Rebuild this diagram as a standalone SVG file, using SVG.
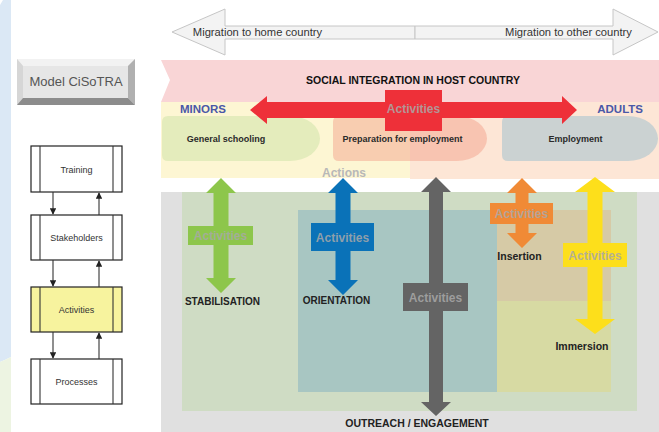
<svg xmlns="http://www.w3.org/2000/svg" width="659" height="432" viewBox="0 0 659 432">
<style>
text{font-family:"Liberation Sans",Arial,sans-serif}
.b{font-weight:bold}
.lbl{font-weight:bold;font-size:12px;fill:#a8a8a8;fill-opacity:0.85;text-anchor:middle}
.box{fill:#fff;stroke:#222;stroke-width:1.2}
.bt{font-size:9px;fill:#333;text-anchor:middle}
.cn{stroke:#333;stroke-width:1.1;fill:none}
.mig{fill:#f3f3f3;stroke:#c6c6c6;stroke-width:1}
</style>
<defs>
<marker id="ah" viewBox="0 0 8 8" refX="7" refY="4" markerWidth="6" markerHeight="6" orient="auto">
<path d="M0,0 L8,4 L0,8 Z" fill="#222"/>
</marker>
</defs>
<rect width="659" height="432" fill="#fff"/>
<!-- left background -->
<path d="M3,0 L11,0 L11,357 Q5,360 0,362 L0,5 Z" fill="#dbe8f5"/>
<path d="M0,362 Q5,360 11,357 L11,432 L0,432 Z" fill="#edf4e2"/>
<!-- lower regions -->
<rect x="161" y="192" width="498" height="240" fill="#e0e0e0"/>
<rect x="182" y="192" width="455" height="219" fill="#cfdcc4"/>
<rect x="298" y="210" width="199" height="182" fill="#a8c6c2"/>
<rect x="497" y="210" width="114" height="91" fill="#d6caa6"/>
<rect x="497" y="301" width="114" height="91" fill="#d7daa3"/>
<!-- upper regions -->
<path d="M161,60 L659,60 L659,102 L161,102 L170,80 Z" fill="#f9d5d6"/>
<rect x="161" y="102" width="249" height="76" fill="#fdf6d3"/>
<rect x="410" y="102" width="249" height="77" fill="#fde6d6"/>
<g id="general-schooling">
<path d="M162,122 Q162,116 168,116 L290,116 A30,22.5 0 0 1 290,161 L168,161 Q162,161 162,155 Z" fill="#e4ecbc"/>
<text x="226" y="142" class="b" font-size="9" fill="#2a2a2a" text-anchor="middle">General schooling</text>
</g>
<g id="preparation">
<path d="M333,122 Q333,116 339,116 L457,116 A30,22.5 0 0 1 457,161 L339,161 Q333,161 333,155 Z" fill="#f29b86" fill-opacity="0.45"/>
<text x="402.5" y="142" class="b" font-size="9" fill="#2a2a2a" text-anchor="middle">Preparation for employment</text>
</g>
<g id="employment">
<path d="M502,122 Q502,116 508,116 L628,116 A30,22.5 0 0 1 628,161 L508,161 Q502,161 502,155 Z" fill="#cbd2d2"/>
<text x="575.5" y="142" class="b" font-size="9" fill="#2a2a2a" text-anchor="middle">Employment</text>
</g>
<text x="413" y="84" class="b" font-size="10.5" fill="#111" text-anchor="middle">SOCIAL INTEGRATION IN HOST COUNTRY</text>
<text x="180" y="113" class="b" font-size="11.5" fill="#4a58a8">MINORS</text>
<text x="643" y="113" class="b" font-size="11.5" fill="#4a58a8" text-anchor="end">ADULTS</text>
<text x="344" y="177" class="b" font-size="12" fill="#b8b8b8" text-anchor="middle">Actions</text>
<!-- migration arrows -->
<g id="migration-home">
<path class="mig" d="M172,32 L225,9 L225,26 L415,26 L415,39 L225,39 L225,55 Z"/>
<text x="257.5" y="36" font-size="11.2" fill="#333" text-anchor="middle">Migration to home country</text>
</g>
<g id="migration-other">
<path class="mig" d="M415,26 L613,26 L613,9 L658,32 L613,55 L613,39 L415,39 Z"/>
<text x="568.5" y="36" font-size="11.2" fill="#333" text-anchor="middle">Migration to other country</text>
</g>
<!-- model button -->
<g id="model-cisotra">
<rect x="17" y="59" width="118" height="46" fill="#e6e6e6"/>
<path d="M17,59 L135,59 L128,66 L23,66 Z" fill="#f2f2f2"/>
<path d="M17,59 L23,66 L23,98 L17,105 Z" fill="#d6d6d6"/>
<path d="M135,59 L135,105 L128,98 L128,66 Z" fill="#b0b0b0"/>
<path d="M17,105 L135,105 L128,98 L23,98 Z" fill="#8c8c8c"/>
<text x="76" y="86" font-size="13" fill="#555" text-anchor="middle">Model CiSoTRA</text>
</g>
<!-- big arrows -->
<g id="red-activities">
<path d="M250,110 L267,96 L267,102 L562,102 L562,96 L577,110 L562,124 L562,118 L267,118 L267,124 Z" fill="#ee3039"/>
<rect x="385" y="90" width="57" height="41" fill="#ee3039"/>
<text x="413.5" y="113" class="lbl" font-size="13">Activities</text>
</g>
<g id="stabilisation">
<path d="M221,178 L236,193 L228.5,193 L228.5,278 L236,278 L221,293 L206,278 L213.5,278 L213.5,193 L206,193 Z" fill="#8dc64b"/>
<rect x="188" y="226" width="65" height="19" fill="#8dc64b"/>
<text x="220.5" y="240" class="lbl">Activities</text>
<text x="222.5" y="305" class="b" font-size="10" fill="#222" text-anchor="middle">STABILISATION</text>
</g>
<g id="orientation">
<path d="M343,178 L358,193 L350.5,193 L350.5,280 L358,280 L343,295 L328,280 L335.5,280 L335.5,193 L328,193 Z" fill="#0a72b8"/>
<rect x="311" y="223" width="63" height="28" fill="#0a72b8"/>
<text x="342.5" y="241.5" class="lbl">Activities</text>
<text x="336.5" y="304" class="b" font-size="10" fill="#222" text-anchor="middle">ORIENTATION</text>
</g>
<g id="outreach">
<path d="M436,177 L451,192 L443,192 L443,402 L451,402 L436,416 L421,402 L429,402 L429,192 L421,192 Z" fill="#646464"/>
<rect x="403" y="283" width="65" height="28" fill="#646464"/>
<text x="435.5" y="301.5" class="lbl">Activities</text>
<text x="417" y="427" class="b" font-size="10.5" fill="#222" text-anchor="middle">OUTREACH / ENGAGEMENT</text>
</g>
<g id="insertion">
<path d="M522,178 L537,193 L528.5,193 L528.5,233 L537,233 L522,248 L507,233 L515.5,233 L515.5,193 L507,193 Z" fill="#f08a36"/>
<rect x="490" y="203" width="63" height="21" fill="#f08a36"/>
<text x="521.5" y="218" class="lbl">Activities</text>
<text x="519.5" y="260" class="b" font-size="10.5" fill="#222" text-anchor="middle">Insertion</text>
</g>
<g id="immersion">
<path d="M595,177 L615,192 L602.5,192 L602.5,319 L615,319 L595,334 L575,319 L587.5,319 L587.5,192 L575,192 Z" fill="#fddf1b"/>
<rect x="563" y="243" width="64" height="24" fill="#fddf1b"/>
<text x="595" y="259.5" class="lbl">Activities</text>
<text x="582" y="350" class="b" font-size="10.5" fill="#222" text-anchor="middle">Immersion</text>
</g>
<!-- left flow -->
<g id="training">
<rect class="box" x="31" y="146" width="91" height="46"/>
<line class="cn" x1="40" y1="146" x2="40" y2="192"/><line class="cn" x1="113" y1="146" x2="113" y2="192"/>
<text class="bt" x="76.5" y="173">Training</text>
</g>
<g id="stakeholders">
<rect class="box" x="31" y="215" width="91" height="45"/>
<line class="cn" x1="40" y1="215" x2="40" y2="260"/><line class="cn" x1="113" y1="215" x2="113" y2="260"/>
<text class="bt" x="76.5" y="241">Stakeholders</text>
</g>
<g id="activities">
<rect class="box" x="31" y="287" width="91" height="45" fill="#f7f39e" style="fill:#f7f39e"/>
<line class="cn" x1="40" y1="287" x2="40" y2="332"/><line class="cn" x1="113" y1="287" x2="113" y2="332"/>
<text class="bt" x="76.5" y="313">Activities</text>
</g>
<g id="processes">
<rect class="box" x="31" y="359" width="91" height="45"/>
<line class="cn" x1="40" y1="359" x2="40" y2="404"/><line class="cn" x1="113" y1="359" x2="113" y2="404"/>
<text class="bt" x="76.5" y="385">Processes</text>
</g>
<g id="connectors">
<line class="cn" x1="53" y1="192" x2="53" y2="214" marker-end="url(#ah)"/>
<line class="cn" x1="99" y1="215" x2="99" y2="193" marker-end="url(#ah)"/>
<line class="cn" x1="53" y1="260" x2="53" y2="286" marker-end="url(#ah)"/>
<line class="cn" x1="99" y1="287" x2="99" y2="261" marker-end="url(#ah)"/>
<line class="cn" x1="53" y1="332" x2="53" y2="358" marker-end="url(#ah)"/>
<line class="cn" x1="99" y1="359" x2="99" y2="333" marker-end="url(#ah)"/>
</g>
</svg>
